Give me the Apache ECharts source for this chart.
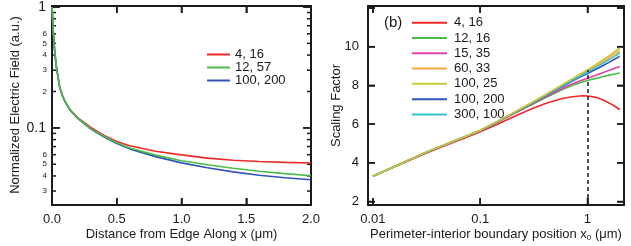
<!DOCTYPE html>
<html><head><meta charset="utf-8">
<script src="https://cdn.jsdelivr.net/npm/echarts@6/dist/echarts.min.js"></script>
<style>html,body{margin:0;padding:0;background:#fff}#c{width:631px;height:246px}</style>
</head><body><div id="c"></div>
<script>
const FONT = "'Liberation Sans', Arial, Helvetica, sans-serif";
// ---- left panel data ----
const leftX     = [0, 0.002, 0.005, 0.01, 0.015, 0.02, 0.03, 0.04, 0.06, 0.08, 0.1, 0.14, 0.2, 0.3, 0.4, 0.5, 0.6, 0.8, 1.0, 1.2, 1.4, 1.6, 1.8, 2.0];
const leftRed   = [1.0, 0.92, 0.78, 0.62, 0.52, 0.44, 0.345, 0.29, 0.215, 0.185, 0.166, 0.141, 0.121, 0.101, 0.087, 0.077, 0.071, 0.0640, 0.0598, 0.0562, 0.0540, 0.0527, 0.0518, 0.0512];
const leftGreen = [1.0, 0.92, 0.78, 0.62, 0.52, 0.44, 0.345, 0.29, 0.215, 0.185, 0.166, 0.141, 0.120, 0.0985, 0.0855, 0.0752, 0.0682, 0.0595, 0.0535, 0.0495, 0.0463, 0.0438, 0.0418, 0.0401];
const leftBlue  = [1.0, 0.92, 0.78, 0.62, 0.52, 0.44, 0.345, 0.29, 0.215, 0.185, 0.165, 0.140, 0.119, 0.0978, 0.0845, 0.0742, 0.0670, 0.0578, 0.0513, 0.0467, 0.0432, 0.0405, 0.0386, 0.0372];
const leftNames = ['4, 16', '12, 57', '100, 200'];
const leftXRange = [0, 2];
const leftYRange = [0.023, 1.02];
const leftXTicks = [0.5, 1.0, 1.5];
const leftYMajor = [0.1, 1];
const leftYMinorTicks = [0.9, 0.8, 0.7, 0.6, 0.5, 0.4, 0.3, 0.2, 0.09, 0.08, 0.07, 0.06, 0.05, 0.04, 0.03];
const leftYMinorLabels = [0.6, 0.5, 0.4, 0.3, 0.2, 0.06, 0.05, 0.04, 0.03];
// ---- right panel data ----
const rightX       = [0.01, 0.02, 0.03, 0.05, 0.07, 0.1, 0.15, 0.2, 0.3, 0.4, 0.5, 0.6, 0.7, 0.8, 0.9, 1.0, 1.2, 1.4, 1.6, 1.8, 2.0];
const rightRed     = [3.30, 4.03, 4.46, 4.95, 5.26, 5.60, 6.03, 6.35, 6.78, 7.05, 7.22, 7.33, 7.40, 7.44, 7.46, 7.45, 7.38, 7.24, 7.08, 6.92, 6.74];
const rightGreen   = [3.30, 4.05, 4.49, 4.99, 5.31, 5.66, 6.14, 6.50, 7.00, 7.35, 7.61, 7.81, 7.97, 8.08, 8.17, 8.25, 8.36, 8.46, 8.53, 8.59, 8.64];
const rightMagenta = [3.30, 4.05, 4.49, 4.99, 5.31, 5.66, 6.15, 6.51, 7.02, 7.38, 7.66, 7.88, 8.04, 8.17, 8.28, 8.37, 8.52, 8.66, 8.78, 8.89, 8.98];
const rightOrange  = [3.30, 4.05, 4.50, 5.00, 5.32, 5.68, 6.18, 6.55, 7.09, 7.48, 7.80, 8.05, 8.26, 8.44, 8.60, 8.75, 9.01, 9.24, 9.45, 9.63, 9.79];
const rightYellow  = [3.30, 4.05, 4.50, 5.00, 5.32, 5.68, 6.18, 6.56, 7.10, 7.50, 7.82, 8.08, 8.30, 8.49, 8.65, 8.80, 9.08, 9.33, 9.55, 9.75, 9.93];
const rightBlue    = [3.30, 4.05, 4.50, 5.00, 5.32, 5.67, 6.16, 6.53, 7.06, 7.44, 7.74, 7.98, 8.18, 8.35, 8.49, 8.61, 8.83, 9.03, 9.20, 9.36, 9.50];
const rightCyan    = [3.30, 4.05, 4.50, 5.00, 5.32, 5.67, 6.17, 6.54, 7.07, 7.46, 7.77, 8.02, 8.22, 8.40, 8.55, 8.68, 8.93, 9.15, 9.34, 9.51, 9.67];
const rightNames = ['4, 16', '12, 16', '15, 35', '60, 33', '100, 25', '100, 200', '300, 100'];
const rightXRange = [0.009, 2.19];
const rightYRange = [1.82, 12.1];
const rightXTicks = [0.01, 0.1, 1];
const rightYTicks = [2, 4, 6, 8, 10, 12];
const rightYHiddenLabels = [12];
const refLine = [1, 8.8]; // x position and top of the dashed marker line

const C = {red:'#f02828', green:'#48bd48', blue:'#3352b8', magenta:'#e040a8', orange:'#ffa436', yellow:'#c9c732', cyan:'#33c4cc'};
const ink = '#1a1a1a';
const zip = (xs, ys) => xs.map((x, i) => [x, ys[i]]);

const mkLine = () => ({show:true, onZero:false, lineStyle:{color:ink, width:2}});
const mkTick = (len) => ({show:true, inside:true, length:len, lineStyle:{color:ink, width:1.5}});
const noSplit = () => ({show:false});
const lbl = (o) => Object.assign({fontFamily:FONT, fontSize:13, color:ink, margin:8}, o);
const fmtNum = v => String(+(+v).toPrecision(3));

function line(name, color, data, xi, yi, extra){
  return Object.assign({type:'line', name, data, xAxisIndex:xi, yAxisIndex:yi, showSymbol:false, symbol:'none',
    smooth:false, lineStyle:{color, width:1.6}, itemStyle:{color}, animation:false}, extra||{});
}
// tick marks drawn as short rect symbols placed on the axis through the axis scales
function ticks(id, xi, yi, data, size, offset, label){
  return {type:'scatter', name:id, xAxisIndex:xi, yAxisIndex:yi, silent:true, clip:false, animation:false,
    symbol:'rect', symbolSize:size, symbolOffset:offset, itemStyle:{color:ink, opacity:1}, z:1,
    data, label:label || {show:false}};
}
const minorLabel = {show:true, position:'left', distance:5, fontFamily:FONT, fontSize:8, color:ink,
  formatter:p => leftYMinorLabels.indexOf(p.value[1]) >= 0 ? String(+(p.value[1]).toPrecision(1)).replace(/^0\.0*/,'') : ''};

const option = {
  animation:false,
  textStyle:{fontFamily:FONT, color:ink},
  grid:[
    {left:52, top:5, width:259, height:200},
    {left:368, top:6, width:256, height:199}
  ],
  title:{text:'(b)', left:379, top:10, textStyle:{fontFamily:FONT, fontSize:15, fontWeight:'normal', color:ink}},
  legend:[
    {data:leftNames, left:202, top:43, orient:'vertical', icon:'rect', itemWidth:23, itemHeight:2, itemGap:0,
     textStyle:{fontFamily:FONT, fontSize:13, color:ink, lineHeight:13}, selectedMode:false},
    {data:rightNames, left:407, top:10, orient:'vertical', icon:'rect', itemWidth:35, itemHeight:2, itemGap:0,
     textStyle:{fontFamily:FONT, fontSize:13, color:ink, lineHeight:15.3, padding:[0,0,0,2]}, selectedMode:false}
  ],
  graphic:[
    {type:'text', x:181.5, y:234, style:{text:'Distance from Edge Along x (\u03bcm)', fontFamily:FONT, fontSize:13, fill:ink, align:'center', verticalAlign:'middle'}},
    {type:'text', x:496, y:234, style:{text:'Perimeter-interior boundary position x{sub|0} (\u03bcm)', fontFamily:FONT, fontSize:13, fill:ink, align:'center', verticalAlign:'middle',
      rich:{sub:{fontFamily:FONT, fontSize:8, fill:ink, verticalAlign:'bottom', padding:[7,0,0,0]}}}},
    {type:'text', x:15, y:105, rotation:Math.PI/2, style:{text:'Normalized Electric Field (a.u.)', fontFamily:FONT, fontSize:13, fill:ink, align:'center', verticalAlign:'middle'}},
    {type:'text', x:336, y:105.5, rotation:Math.PI/2, style:{text:'Scaling Factor', fontFamily:FONT, fontSize:13, fill:ink, align:'center', verticalAlign:'middle'}}
  ],
  xAxis:[
    {gridIndex:0, position:'bottom', type:'value', min:leftXRange[0], max:leftXRange[1], interval:0.5,
      axisLine:mkLine(), axisTick:mkTick(7), splitLine:noSplit(),
      axisLabel:lbl({formatter:v=>v.toFixed(1)})},
    {gridIndex:0, position:'top', type:'value', min:leftXRange[0], max:leftXRange[1], interval:0.5,
      axisLine:mkLine(), axisTick:mkTick(7), splitLine:noSplit(), axisLabel:{show:false}},
    {gridIndex:1, position:'bottom', type:'log', min:rightXRange[0], max:rightXRange[1],
      axisLine:mkLine(), axisTick:mkTick(7), splitLine:noSplit(),
      axisLabel:lbl({showMinLabel:false, showMaxLabel:false, formatter:fmtNum})},
    {gridIndex:1, position:'top', type:'log', min:rightXRange[0], max:rightXRange[1],
      axisLine:mkLine(), axisTick:mkTick(7), splitLine:noSplit(), axisLabel:{show:false}}
  ],
  yAxis:[
    {gridIndex:0, position:'left', type:'log', min:leftYRange[0], max:leftYRange[1],
      axisLine:mkLine(), axisTick:mkTick(8), splitLine:noSplit(),
      axisLabel:lbl({fontSize:14, margin:6, showMinLabel:false, showMaxLabel:false, formatter:fmtNum})},
    {gridIndex:0, position:'right', type:'log', min:leftYRange[0], max:leftYRange[1],
      axisLine:mkLine(), axisTick:mkTick(8), splitLine:noSplit(), axisLabel:{show:false}},
    {gridIndex:1, position:'left', type:'value', min:rightYRange[0], max:rightYRange[1],
      axisLine:mkLine(), axisTick:mkTick(7), splitLine:noSplit(),
      axisLabel:lbl({margin:9, showMinLabel:false, showMaxLabel:false,
        formatter:v => rightYHiddenLabels.indexOf(v) >= 0 ? '' : String(v)})},
    {gridIndex:1, position:'right', type:'value', min:rightYRange[0], max:rightYRange[1],
      axisLine:mkLine(), axisTick:mkTick(7), splitLine:noSplit(), axisLabel:{show:false}}
  ],
  series:[
    // left panel frame ticks
    ticks('_lb', 0, 0, leftXTicks.map(v => [v, leftYRange[0]]), [1.5, 7], [0, -3.5]),
    ticks('_lt', 0, 0, leftXTicks.map(v => [v, leftYRange[1]]), [1.5, 7], [0, 3.5]),
    ticks('_ll', 0, 0, leftYMajor.map(v => [leftXRange[0], v]), [8, 1.5], [4, 0]),
    ticks('_lr', 0, 0, leftYMajor.map(v => [leftXRange[1], v]), [8, 1.5], [-4, 0]),
    ticks('_lml', 0, 0, leftYMinorTicks.map(v => [leftXRange[0], v]), [4, 1.5], [2, 0], minorLabel),
    ticks('_lmr', 0, 0, leftYMinorTicks.map(v => [leftXRange[1], v]), [4, 1.5], [-2, 0]),
    // right panel frame ticks
    ticks('_rb', 2, 2, rightXTicks.map(v => [v, rightYRange[0]]), [1.5, 7], [0, -3.5]),
    ticks('_rt', 2, 2, rightXTicks.map(v => [v, rightYRange[1]]), [1.5, 7], [0, 3.5]),
    ticks('_rl', 2, 2, rightYTicks.map(v => [rightXRange[0], v]), [7, 1.5], [3.5, 0]),
    ticks('_rr', 2, 2, rightYTicks.map(v => [rightXRange[1], v]), [7, 1.5], [-3.5, 0]),
    // curves
    line(leftNames[0], C.red,   zip(leftX, leftRed),   0, 0),
    line(leftNames[2], C.blue,  zip(leftX, leftBlue),  0, 0),
    line(leftNames[1], C.green, zip(leftX, leftGreen), 0, 0),
    line(rightNames[0], C.red,     zip(rightX, rightRed),     2, 2),
    line(rightNames[1], C.green,   zip(rightX, rightGreen),   2, 2),
    line(rightNames[2], C.magenta, zip(rightX, rightMagenta), 2, 2),
    line(rightNames[3], C.orange,  zip(rightX, rightOrange),  2, 2),
    line(rightNames[5], C.blue,    zip(rightX, rightBlue),    2, 2),
    line(rightNames[6], C.cyan,    zip(rightX, rightCyan),    2, 2),
    line(rightNames[4], C.yellow,  zip(rightX, rightYellow),  2, 2, {
      markLine:{silent:true, symbol:'none', animation:false, label:{show:false},
        lineStyle:{color:ink, width:1.5, type:[4,3]},
        data:[[{coord:[refLine[0], rightYRange[0]]}, {coord:[refLine[0], refLine[1]]}]]}
    })
  ]
};
const chart = echarts.init(document.getElementById('c'));
chart.setOption(option);
</script></body></html>
